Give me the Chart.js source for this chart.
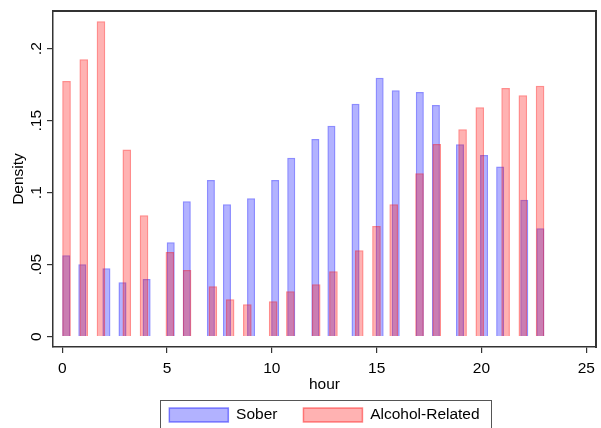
<!DOCTYPE html>
<html>
<head>
<meta charset="utf-8">
<script src="https://cdn.jsdelivr.net/npm/chart.js@4.4.1/dist/chart.umd.min.js"></script>
<style>
  html, body { margin: 0; padding: 0; background: #ffffff; }
  #wrap { width: 601px; height: 428px; }
</style>
</head>
<body>
<div id="wrap"><canvas id="hist" width="601" height="428"></canvas></div>
<script>
// Hour of crash, 0-23
const hours = [0, 1, 2, 3, 4, 5, 6, 7, 8, 9, 10, 11, 12, 13, 14, 15, 16, 17, 18, 19, 20, 21, 22, 23];

// Histogram densities per hour
const soberDensity = [0.0565, 0.0503, 0.0475, 0.0378, 0.0401, 0.0655, 0.0940, 0.1088,
                      0.0920, 0.0961, 0.1088, 0.1243, 0.1373, 0.1465, 0.1618, 0.1799,
                      0.1711, 0.1700, 0.1609, 0.1336, 0.1262, 0.1181, 0.0951, 0.0753];
const alcoholDensity = [0.1776, 0.1926, 0.2190, 0.1300, 0.0843, 0.0588, 0.0463, 0.0350,
                        0.0260, 0.0225, 0.0246, 0.0315, 0.0364, 0.0454, 0.0600, 0.0769,
                        0.0920, 0.1135, 0.1338, 0.1440, 0.1593, 0.1727, 0.1676, 0.1743];

// Number of histogram bins used for each group over the hour range
const soberBins = 60;
const alcoholBins = 56;
const hourMin = 0;
const hourMax = 23;

const seriesNames = ['Sober', 'Alcohol-Related'];
const xTickValues = [0, 5, 10, 15, 20, 25];
const yTickValues = [0, 0.05, 0.1, 0.15, 0.2];
const yTickLabels = ['0', '.05', '.1', '.15', '.2'];

// Midpoint of the histogram bin that holds each hour
function binMidpoints(binCount) {
  const width = (hourMax - hourMin) / binCount;
  return hours.map(h => {
    const k = Math.min(Math.floor((h - hourMin) / width), binCount - 1);
    return hourMin + (k + 0.5) * width;
  });
}

const soberX = binMidpoints(soberBins);
const alcoholX = binMidpoints(alcoholBins);

const FONT = { family: '"Liberation Sans", Arial, sans-serif', size: 15.5 };
const TEXT = '#000000';
const AXIS = '#333333';
const X_RANGE = { min: -0.44, max: 25.46 };

// Plot frame around the data area, legend placed under the axis title with its own frame
const frames = {
  id: 'frames',
  afterLayout(chart) {
    const lg = chart.legend;
    const dy = chart.chartArea.bottom + 34.25 - lg.top;
    lg.top += dy;
    lg.bottom += dy;
  },
  afterDraw(chart) {
    const ctx = chart.ctx;
    const ys = chart.scales.y;
    const xs = chart.scales.x;
    const top = Math.round(ys.top);
    const left = Math.round(xs.left);
    const right = Math.round(xs.right);
    ctx.save();
    ctx.fillStyle = AXIS;
    ctx.fillRect(left - 1, top - 1, right - left + 2, 2);
    ctx.fillRect(right - 1, top - 1, 2, Math.round(ys.bottom) - top + 2);

    const hb = chart.legend.legendHitBoxes;
    if (hb && hb.length) {
      const last = hb[hb.length - 1];
      const lx = hb[0].left - 9;
      const rx = last.left + last.width + 12;
      const ty = hb[0].top - 7.5;
      ctx.strokeStyle = '#555555';
      ctx.lineWidth = 1;
      ctx.strokeRect(Math.round(lx) + 0.5, Math.round(ty) + 0.5, Math.round(rx - lx), 28);
    }
    ctx.restore();
  }
};

new Chart(document.getElementById('hist'), {
  type: 'bar',
  data: {
    datasets: [
      {
        label: seriesNames[0],
        data: hours.map((h, i) => ({ x: soberX[i], y: soberDensity[i] })),
        xAxisID: 'x',
        yAxisID: 'y',
        backgroundColor: 'rgba(0, 0, 255, 0.3)',
        borderColor: 'rgba(0, 0, 255, 0.45)',
        borderWidth: 1.5,
        barPercentage: 0.5,
        categoryPercentage: 1,
        grouped: false,
        order: 1
      },
      {
        label: seriesNames[1],
        data: hours.map((h, i) => ({ x: alcoholX[i], y: alcoholDensity[i] })),
        xAxisID: 'x2',
        yAxisID: 'y',
        backgroundColor: 'rgba(255, 0, 0, 0.3)',
        borderColor: 'rgba(255, 0, 0, 0.45)',
        borderWidth: 1.5,
        barPercentage: 0.5,
        categoryPercentage: 1,
        grouped: false,
        order: 0
      }
    ]
  },
  options: {
    responsive: false,
    animation: false,
    devicePixelRatio: 1,
    layout: { padding: { top: 11, right: 2, bottom: -17.5, left: 0 } },
    plugins: {
      tooltip: { enabled: false },
      legend: {
        position: 'bottom',
        fullSize: false,
        labels: {
          font: FONT,
          color: TEXT,
          boxWidth: 59,
          boxHeight: 14,
          padding: 26,
          sort: (a, b) => a.datasetIndex - b.datasetIndex
        }
      }
    },
    scales: {
      x: {
        type: 'linear',
        position: 'bottom',
        offset: false,
        min: X_RANGE.min,
        max: X_RANGE.max,
        afterBuildTicks: s => { s.ticks = xTickValues.map(v => ({ value: v })); },
        ticks: { font: FONT, color: TEXT, padding: 6, maxRotation: 0, callback: v => String(v) },
        grid: { offset: false, drawOnChartArea: false, drawTicks: true, tickLength: 6, color: AXIS, lineWidth: 1.2 },
        border: { display: true, color: AXIS, width: 1.5 },
        title: { display: true, text: 'hour', font: FONT, color: TEXT, padding: { top: 0, bottom: 0 } },
        afterFit: s => { s.height = 47; }
      },
      x2: {
        type: 'linear',
        position: 'top',
        offset: false,
        min: X_RANGE.min,
        max: X_RANGE.max,
        afterBuildTicks: s => { s.ticks = xTickValues.map(v => ({ value: v })); },
        ticks: { display: false },
        grid: { offset: false, display: false },
        border: { display: false },
        afterFit: s => { s.height = 0; }
      },
      y: {
        type: 'linear',
        position: 'left',
        min: -0.0072,
        max: 0.2262,
        afterBuildTicks: s => { s.ticks = yTickValues.map(v => ({ value: v })); },
        ticks: {
          font: FONT,
          color: TEXT,
          minRotation: 90,
          maxRotation: 90,
          crossAlign: 'center',
          padding: 0,
          callback: v => yTickLabels[yTickValues.indexOf(v)]
        },
        grid: { drawOnChartArea: false, drawTicks: true, tickLength: 6, color: AXIS, lineWidth: 1.2 },
        border: { display: true, color: AXIS, width: 1.5 },
        title: { display: true, text: 'Density', font: FONT, color: TEXT, padding: { top: 9.5, bottom: 0 } },
        afterFit: s => { s.width = 53; }
      },
      y2: {
        type: 'linear',
        position: 'right',
        ticks: { display: false },
        grid: { display: false },
        border: { display: false },
        afterFit: s => { s.width = 0; }
      }
    }
  },
  plugins: [frames]
});
</script>
</body>
</html>
